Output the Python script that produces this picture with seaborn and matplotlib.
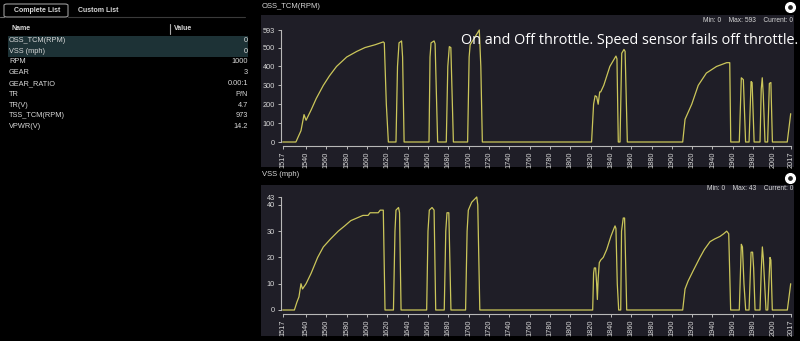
import matplotlib
matplotlib.use("Agg")
import matplotlib.pyplot as plt
import seaborn as sns
import pandas as pd
from matplotlib.patches import Rectangle, FancyBboxPatch
from matplotlib.lines import Line2D

# ---------------- data ----------------
oss_t = [1517, 1530, 1535, 1538, 1540, 1545, 1550, 1557, 1563, 1570, 1580, 1590, 1598, 1608, 1616, 1617, 1619, 1621,
         1628.5, 1630, 1631.5, 1634, 1635, 1636.5,
         1661, 1662, 1663, 1666, 1667, 1669.5,
         1678, 1679.5, 1681, 1682.5, 1685,
         1699, 1700.5, 1701.5, 1705, 1710.5, 1712, 1713.5,
         1821, 1823, 1824.5, 1826, 1827.5, 1829, 1830, 1833, 1839, 1845, 1846, 1847.3,
         1849, 1850.7, 1852.9, 1854, 1856.2,
         1910.7, 1913, 1919.6, 1926, 1934, 1944, 1954, 1957, 1958,
         1966.4, 1968.4, 1970.4, 1972.6,
         1976, 1978, 1979, 1981,
         1986.8, 1988, 1989, 1990, 1991.7,
         1994.3, 1996, 1997.5, 1999,
         2013.6, 2017]
oss_v = [0, 0, 60, 145, 115, 170, 230, 300, 350, 400, 450, 480, 500, 515, 530, 525, 200, 0,
         0, 400, 525, 535, 450, 0,
         0, 450, 525, 535, 520, 0,
         0, 400, 505, 500, 0,
         0, 450, 515, 545, 593, 400, 0,
         0, 200, 245, 240, 200, 265, 265, 300, 400, 455, 440, 0,
         0, 470, 490, 480, 0,
         0, 120, 200, 300, 365, 400, 420, 420, 0,
         0, 340, 330, 0,
         0, 320, 315, 0,
         0, 280, 340, 250, 0,
         0, 310, 315, 0,
         0, 150]

vss_t = [1517, 1528.5, 1531, 1533, 1535, 1536.5, 1540, 1545, 1551.4, 1557, 1564, 1571.7, 1578, 1584, 1590, 1596,
         1601, 1603, 1611, 1613, 1616, 1617.7,
         1626, 1627.5, 1628.5, 1631, 1632, 1633.5,
         1658.7, 1660, 1661.3, 1664, 1666, 1667.6,
         1676, 1677.5, 1678.7, 1680.5, 1682.6,
         1697, 1698.5, 1699.7, 1703, 1708, 1709, 1711,
         1822.1, 1823, 1823.7, 1825, 1826, 1826.7, 1827.5, 1828.6, 1830, 1832.5, 1835.9, 1840, 1843, 1844.1, 1845,
         1846.3, 1847.7,
         1849.7, 1850.5, 1852.2, 1853.5, 1855.6,
         1910.7, 1913, 1916, 1921.1, 1927.7, 1932, 1937.6, 1942, 1947.4, 1951, 1954, 1956, 1957.9,
         1966.4, 1968.4, 1969.5, 1971, 1972.7,
         1976, 1978, 1979.5, 1980.5, 1981.9,
         1986.8, 1988, 1989.1, 1990, 1992.7,
         1994.4, 1996.6, 1997.5, 1998.9,
         2013.7, 2017]
vss_v = [0, 0, 3, 5, 10, 8, 10, 14, 20, 24, 27, 30, 32, 34, 35, 36,
         36, 37, 37, 38, 38, 0,
         0, 30, 38, 39, 37, 0,
         0, 30, 38, 39, 38, 0,
         0, 30, 37, 37, 0,
         0, 30, 38, 41, 43, 40, 0,
         0, 14, 16, 16, 10, 4, 12, 18, 19, 20, 23, 28, 31, 32, 31,
         10, 0,
         0, 30, 35, 35, 0,
         0, 8, 11, 15, 20, 23, 26, 27, 28, 29, 30, 29, 0,
         0, 25, 24, 10, 0,
         0, 22, 22, 16, 0,
         0, 15, 24, 20, 0,
         0, 20, 19, 0,
         0, 10]

x_ticks = [1517, 1540, 1560, 1580, 1600, 1620, 1640, 1660, 1680, 1700, 1720, 1740, 1760, 1780, 1800,
           1820, 1840, 1860, 1880, 1900, 1920, 1940, 1960, 1980, 2000, 2017]
oss_yticks = [0, 100, 200, 300, 400, 500, 593]
vss_yticks = [0, 10, 20, 30, 40, 43]

param_names = ["OSS_TCM(RPM)", "VSS (mph)", "RPM", "GEAR", "GEAR_RATIO", "TR", "TR(V)", "TSS_TCM(RPM)", "VPWR(V)"]
param_values = ["0", "0", "1000", "3", "0.00:1", "P/N", "4.7", "973", "14.2"]

# ---------------- figure ----------------
W, H = 800, 341
fig = plt.figure(figsize=(W / 100, H / 100), dpi=100, facecolor="black")
sns.set_style("dark")
plt.rcParams['font.family'] = ['Liberation Sans', 'DejaVu Sans']

def fx(x):
    return x / W

def fy(y):
    return 1 - y / H

TXT = "#d8d8d8"
LINE = "#cbc65a"
PANEL = "#1f1e27"
AXC = "#b8b8b8"

# left panel: tabs
tab = FancyBboxPatch((fx(4), fy(17)), fx(64), 13 / H, boxstyle="round,pad=0,rounding_size=0.004",
                     transform=fig.transFigure, fill=False, edgecolor="#9a9a9a", lw=0.8)
fig.patches.append(tab)
fig.add_artist(Line2D([fx(0), fx(4)], [fy(17), fy(17)], color="#6a6a6a", lw=0.8))
fig.add_artist(Line2D([fx(68), fx(245)], [fy(17), fy(17)], color="#3a3a3a", lw=0.8))
fig.text(fx(14), fy(10), "Complete List", color=TXT, fontsize=5, fontweight="bold", va="center")
fig.text(fx(78), fy(10), "Custom List", color=TXT, fontsize=5, fontweight="bold", va="center")

fig.text(fx(12), fy(29), "Name", color=TXT, fontsize=5, fontweight="bold", va="center")
fig.add_artist(Line2D([fx(170), fx(170)], [fy(24), fy(34)], color="#aaaaaa", lw=0.8))
fig.text(fx(174), fy(29), "Value", color=TXT, fontsize=5, fontweight="bold", va="center")

fig.patches.append(Rectangle((fx(8), fy(57)), fx(240), 21 / H, transform=fig.transFigure,
                             facecolor="#1d3236", edgecolor="none", zorder=-5))
row_y = [40.7, 51.7, 61.7, 72.3, 83.3, 94.3, 105.3, 116, 126.7]
for yy, nm, vl in zip(row_y, param_names, param_values):
    fig.text(fx(9), fy(yy), nm, color=TXT, fontsize=5.3, va="center")
    fig.text(fx(248), fy(yy), vl, color=TXT, fontsize=5.3, va="center", ha="right")

# chart panels
for top, bot, title, ty, stats, sy, cy in [
        (15, 167, "OSS_TCM(RPM)", 7, "Min: 0    Max: 593    Current: 0", 20.5, 7),
        (185, 336, "VSS (mph)", 175, "Min: 0    Max: 43    Current: 0", 189, 178)]:
    fig.patches.append(Rectangle((fx(261), fy(bot)), fx(794 - 261), (bot - top) / H,
                                 transform=fig.transFigure, facecolor=PANEL, edgecolor="none", zorder=-5))
    fig.text(fx(262), fy(ty), title, color=TXT, fontsize=5.5, va="center")
    fig.text(fx(793), fy(sy), stats, color=TXT, fontsize=4.8, va="center", ha="right")
    fig.add_artist(Line2D([fx(790)], [fy(cy)], marker="o", markersize=7, markerfacecolor="white",
                          markeredgecolor="white", lw=0))
    fig.add_artist(Line2D([fx(790)], [fy(cy)], marker="o", markersize=2.4, markerfacecolor="#222222",
                          markeredgecolor="#222222", lw=0))

def make_axes(y_top, y_zero, t, v, ymax, yticks):
    ax = fig.add_axes([fx(282.7), fy(y_zero), fx(790.7 - 282.7), (y_zero - y_top) / H])
    ax.set_facecolor("none")
    ax.set_zorder(2)
    df = pd.DataFrame({"t": t, "v": v})
    sns.lineplot(data=df, x="t", y="v", ax=ax, color=LINE, lw=0.9, estimator=None, sort=False)
    for ln in ax.lines:
        ln.set_clip_on(False)
    ax.set_xlim(1517, 2017)
    ax.set_ylim(0, ymax)
    ax.set_xticks(x_ticks)
    ax.set_xticklabels([str(x) for x in x_ticks])
    ax.set_yticks(yticks)
    ax.set_xlabel("")
    ax.set_ylabel("")
    ax.grid(False)
    for s in ["top", "right"]:
        ax.spines[s].set_visible(False)
    ax.spines["left"].set_color(AXC)
    ax.spines["bottom"].set_color(AXC)
    ax.spines["left"].set_linewidth(0.8)
    ax.spines["bottom"].set_linewidth(0.8)
    ax.spines["left"].set_position(("outward", 1.5))
    ax.spines["bottom"].set_position(("outward", 3))
    ax.tick_params(axis="both", colors=AXC, labelcolor=TXT, labelsize=5.3, length=2.5, width=0.7,
                   direction="out", pad=1.5)
    ax.tick_params(axis="x", bottom=True, labelrotation=90)
    ax.tick_params(axis="y", left=True)
    return ax

make_axes(30, 142, oss_t, oss_v, 593, oss_yticks)
make_axes(197, 310, vss_t, vss_v, 43, vss_yticks)

fig.text(fx(461), fy(41), "On and Off throttle. Speed sensor fails off throttle.", color="white",
         fontsize=10.4, family=["Open Sans", "DejaVu Sans"], va="center", ha="left", zorder=10)

fig.savefig("out.png", dpi=100, facecolor="black")
